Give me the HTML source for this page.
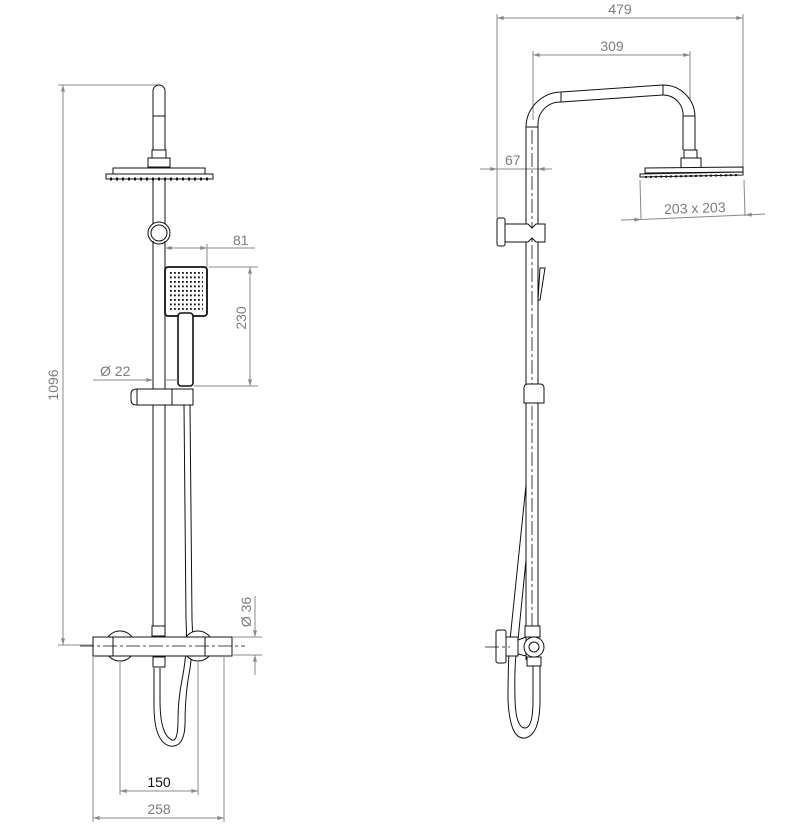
<!DOCTYPE html>
<html><head><style>
html,body{margin:0;padding:0;background:#fff;}
svg{display:block;}
text{font-family:"Liberation Sans",sans-serif;fill:#7d7d7d;font-size:14px;}
.d{stroke:#888;stroke-width:1;fill:none;}
.o{stroke:#111;stroke-width:1;fill:none;}
.ow{stroke:#111;stroke-width:1;fill:#fff;}
.c{stroke:#111;stroke-width:0.8;fill:none;stroke-dasharray:14 3 3 3;}
</style></head><body>
<svg width="788" height="837" viewBox="0 0 788 837">
<defs>
<marker id="a" viewBox="0 0 10 6" refX="10" refY="3" markerWidth="12" markerHeight="4" orient="auto-start-reverse"><path d="M0,0 L10,3 L0,6 z" fill="#888"/></marker>
</defs>

<!-- ============ LEFT VIEW ============ -->
<line class="d" x1="58" y1="85" x2="159" y2="85"/>
<line class="d" x1="58" y1="645" x2="93" y2="645"/>
<line class="d" x1="63" y1="85" x2="63" y2="645" marker-start="url(#a)" marker-end="url(#a)"/>
<text transform="translate(58,385) rotate(-90)" text-anchor="middle">1096</text>

<path class="o" d="M153,150 L153,91 A6,6 0 0 1 165,91 L165,150"/>
<line class="o" x1="153" y1="116" x2="165" y2="116"/>
<rect class="ow" x="152" y="150" width="14" height="8"/>
<rect class="ow" x="148" y="158" width="22" height="9"/>
<rect class="ow" x="113" y="168" width="92" height="6"/>
<rect class="ow" x="106" y="174" width="107" height="5"/>
<line x1="110" y1="179" x2="209" y2="179" stroke="#111" stroke-width="3" stroke-dasharray="2 4"/>
<line class="o" x1="153" y1="179" x2="153" y2="626"/>
<line class="o" x1="165" y1="179" x2="165" y2="626"/>
<circle class="ow" cx="159" cy="233" r="11"/>
<circle class="o" cx="159" cy="233" r="8"/>
<line class="o" x1="153" y1="241" x2="153" y2="385"/>
<line class="o" x1="165" y1="241" x2="165" y2="385"/>
<rect x="165" y="267" width="42" height="49" rx="3" fill="#fff" stroke="#111" stroke-width="1.8"/>
<pattern id="dots" x="170" y="272" width="4" height="4.5" patternUnits="userSpaceOnUse"><rect width="1.8" height="1.8" fill="#111"/></pattern>
<rect x="170" y="272" width="33" height="38" fill="url(#dots)"/>
<rect x="178" y="313" width="15" height="73" rx="3" fill="#fff" stroke="#111" stroke-width="1.6"/>
<path class="ow" d="M137,389 L193,389 L193,405 L137,405 Q131,405 131,400 L131,394 Q131,389 137,389 z"/>
<line class="o" x1="137" y1="389" x2="137" y2="405"/>
<line class="o" x1="172" y1="389" x2="172" y2="405"/>
<path class="o" d="M184,405 L186,620 Q188,650 182,680 Q178,700 178,720 Q178,742 172,740 Q160,735 160,700 L160,668"/>
<path class="o" d="M190,405 L192,620 Q194,650 188,680 Q185,700 185,725 Q184,748 170,746 Q153,742 154,700 L154,668"/>
<rect class="ow" x="152" y="626" width="13" height="10"/>
<circle class="ow" cx="120" cy="646" r="15"/>
<circle class="ow" cx="198" cy="646" r="15"/>
<rect class="ow" x="93" y="637" width="139" height="19"/>
<line class="o" x1="113" y1="637" x2="113" y2="656"/>
<line class="o" x1="205" y1="637" x2="205" y2="656"/>
<line class="c" x1="80" y1="646" x2="245" y2="646"/>
<rect class="ow" x="153" y="657" width="12" height="10"/>
<line class="d" x1="207" y1="267" x2="207" y2="244"/>
<line class="d" x1="165" y1="248" x2="207" y2="248" marker-start="url(#a)" marker-end="url(#a)"/>
<line class="d" x1="207" y1="248" x2="255" y2="248"/>
<text x="233" y="245">81</text>
<line class="d" x1="209" y1="267" x2="258" y2="267"/>
<line class="d" x1="194" y1="386" x2="258" y2="386"/>
<line class="d" x1="250" y1="267" x2="250" y2="386" marker-start="url(#a)" marker-end="url(#a)"/>
<text transform="translate(246,318) rotate(-90)" text-anchor="middle">230</text>
<line class="d" x1="93" y1="380" x2="153" y2="380" marker-end="url(#a)"/>
<line class="d" x1="165" y1="380" x2="178" y2="380"/>
<text x="100" y="376">Ø 22</text>
<line class="d" x1="233" y1="637" x2="262" y2="637"/>
<line class="d" x1="233" y1="655" x2="262" y2="655"/>
<line class="d" x1="255" y1="596" x2="255" y2="637" marker-end="url(#a)"/>
<line class="d" x1="255" y1="675" x2="255" y2="655" marker-end="url(#a)"/>
<text transform="translate(251,612) rotate(-90)" text-anchor="middle">Ø 36</text>
<line class="d" x1="120" y1="661" x2="120" y2="795"/>
<line class="d" x1="198" y1="661" x2="198" y2="795"/>
<line class="d" x1="120" y1="791" x2="198" y2="791" marker-start="url(#a)" marker-end="url(#a)"/>
<text x="159" y="787" text-anchor="middle" style="fill:#111">150</text>
<line class="d" x1="93" y1="656" x2="93" y2="822"/>
<line class="d" x1="224" y1="656" x2="224" y2="822"/>
<line class="d" x1="93" y1="818" x2="224" y2="818" marker-start="url(#a)" marker-end="url(#a)"/>
<text x="159" y="814" text-anchor="middle">258</text>

<!-- ============ RIGHT VIEW ============ -->
<line class="d" x1="497" y1="14" x2="497" y2="218"/>
<line class="d" x1="743" y1="14" x2="743" y2="172"/>
<line class="d" x1="497" y1="18" x2="743" y2="18" marker-start="url(#a)" marker-end="url(#a)"/>
<text x="620" y="14" text-anchor="middle">479</text>
<line class="d" x1="533" y1="51" x2="533" y2="120"/>
<line class="d" x1="690" y1="51" x2="690" y2="100"/>
<line class="d" x1="533" y1="55" x2="690" y2="55" marker-start="url(#a)" marker-end="url(#a)"/>
<text x="612" y="51" text-anchor="middle">309</text>
<line class="d" x1="480" y1="169" x2="497" y2="169" marker-end="url(#a)"/>
<line class="d" x1="497" y1="169" x2="538" y2="169"/>
<line class="d" x1="552" y1="169" x2="538" y2="169" marker-end="url(#a)"/>
<text x="505" y="165">67</text>
<line class="d" x1="640" y1="180" x2="641" y2="220"/>
<line class="d" x1="744" y1="180" x2="745" y2="216"/>
<line class="d" x1="621" y1="220" x2="641" y2="219.5" marker-end="url(#a)"/>
<line class="d" x1="641" y1="219.5" x2="745" y2="215"/>
<line class="d" x1="765" y1="214" x2="745" y2="215" marker-end="url(#a)"/>
<text x="695" y="213" text-anchor="middle" transform="rotate(-2 695 213)">203 x 203</text>

<path class="o" d="M526,660 L526,125 A36,36 0 0 1 561,92 L663,85 A32,32 0 0 1 695,117 L695,150"/>
<path class="o" d="M538,660 L538,125 A22,22 0 0 1 561,102 L663,95 A20,20 0 0 1 683,117 L683,150"/>
<line class="o" x1="526" y1="127" x2="538" y2="127"/>
<line class="o" x1="561" y1="92" x2="561" y2="102"/>
<line class="o" x1="663" y1="85" x2="663" y2="95"/>
<line class="o" x1="683" y1="116" x2="695" y2="116"/>
<line class="c" x1="532" y1="130" x2="532" y2="640"/>
<rect class="ow" x="684" y="150" width="13" height="8"/>
<rect class="ow" x="681" y="158" width="20" height="10"/>
<path class="ow" d="M645,168 L743,167 L743,172 L645,173 z"/>
<path class="ow" d="M640,174 L743,172 L743,175 L640,177 z"/>
<line x1="645" y1="177" x2="740" y2="175" stroke="#111" stroke-width="2" stroke-dasharray="2 3"/>
<rect class="ow" x="497" y="218" width="8" height="28" rx="2"/>
<path class="ow" d="M505,224 L528,224 L532,228 L536,224 L545,224 L545,242 L536,242 L532,238 L528,242 L505,242 z"/>
<path class="ow" d="M540,268 L545,268 L540,300 L538,300 z"/>
<path class="ow" d="M524,388 Q524,384 528,384 L540,384 Q544,384 544,388 L544,403 L524,403 z"/>
<path class="o" d="M526,485 L510,640 Q508,660 508,700 Q510,740 525,738 Q540,735 540,700 L540,665"/>
<path class="o" d="M526,560 L518,640 Q514,660 515,700 Q516,728 525,728 Q533,728 533,700 L533,665"/>
<rect class="ow" x="496" y="630" width="10" height="33" rx="2"/>
<rect class="ow" x="506" y="637" width="12" height="19"/>
<path class="ow" d="M518,640 L526,637 L526,656 L518,654 z"/>
<rect class="ow" x="525" y="626" width="15" height="11"/>
<circle class="ow" cx="534" cy="647" r="10"/>
<circle class="o" cx="534" cy="647" r="5"/>
<rect class="ow" x="527" y="657" width="14" height="9"/>
<line class="c" x1="485" y1="647" x2="510" y2="647"/>
</svg>
</body></html>
